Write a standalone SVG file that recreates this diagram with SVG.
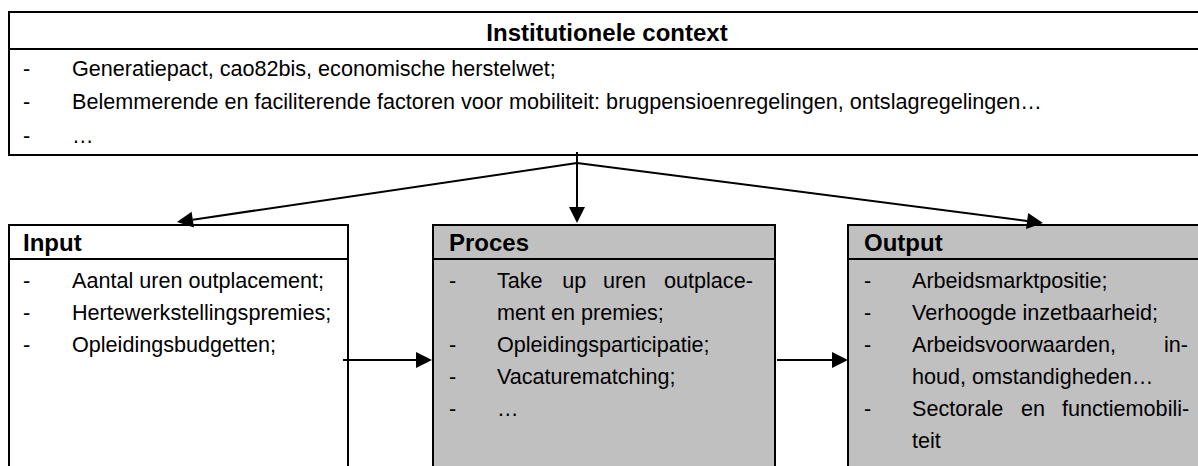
<svg xmlns="http://www.w3.org/2000/svg" width="1198" height="466" viewBox="0 0 1198 466">
  <defs>
    <marker id="ah" markerUnits="userSpaceOnUse" markerWidth="16" markerHeight="16" refX="0" refY="8" orient="auto" overflow="visible">
      <path d="M0,0 L16,8 L0,16 z" fill="#000"/>
    </marker>
    <style>
      .box { stroke: #000; stroke-width: 2; }
      .white { fill: #fff; }
      .grey { fill: #c0c0c0; }
      .sep { stroke: #000; stroke-width: 2; }
      .t { font-family: "Liberation Sans", Arial, sans-serif; font-size: 21.6px; fill: #000; }
      .h { font-family: "Liberation Sans", Arial, sans-serif; font-size: 24px; font-weight: bold; fill: #000; }
      .con { stroke: #000; stroke-width: 2; fill: none; marker-end: url(#ah); }
      .plain { stroke: #000; stroke-width: 2; fill: none; }
    </style>
  </defs>
  <rect width="1198" height="466" fill="#fff"/>

  <g id="context">
    <rect class="box white" x="9" y="12" width="1205" height="143"/>
    <line class="sep" x1="9" y1="49" x2="1214" y2="49"/>
    <text class="h" x="607" y="41" text-anchor="middle">Institutionele context</text>
    <text class="t" x="23" y="76">-</text>
    <text class="t" x="72" y="76">Generatiepact, cao82bis, economische herstelwet;</text>
    <text class="t" x="23" y="109">-</text>
    <text class="t" x="72" y="109">Belemmerende en faciliterende factoren voor mobiliteit: brugpensioenregelingen, ontslagregelingen…</text>
    <text class="t" x="23" y="143">-</text>
    <text class="t" x="72" y="143">…</text>
  </g>

  <g id="input">
    <rect class="box white" x="9" y="225" width="339" height="260"/>
    <line class="sep" x1="9" y1="259" x2="348" y2="259"/>
    <text class="h" x="23" y="251">Input</text>
    <text class="t" x="23" y="288">-</text>
    <text class="t" x="72" y="288">Aantal uren outplacement;</text>
    <text class="t" x="23" y="320">-</text>
    <text class="t" x="72" y="320">Hertewerkstellingspremies;</text>
    <text class="t" x="23" y="352">-</text>
    <text class="t" x="72" y="352">Opleidingsbudgetten;</text>
  </g>

  <g id="proces">
    <rect class="box grey" x="433" y="225" width="342" height="260"/>
    <line class="sep" x1="433" y1="259" x2="775" y2="259"/>
    <text class="h" x="449" y="251">Proces</text>
    <text class="t" x="449" y="288">-</text>
    <text class="t" y="288"><tspan x="497">Take</tspan><tspan x="562.2">up</tspan><tspan x="602.9">uren</tspan><tspan x="664">outplace-</tspan></text>
    <text class="t" x="497" y="320">ment en premies;</text>
    <text class="t" x="449" y="352">-</text>
    <text class="t" x="497" y="352">Opleidingsparticipatie;</text>
    <text class="t" x="449" y="384">-</text>
    <text class="t" x="497" y="384">Vacaturematching;</text>
    <text class="t" x="449" y="416">-</text>
    <text class="t" x="497" y="416">…</text>
  </g>

  <g id="output">
    <rect class="box grey" x="848" y="225" width="370" height="260"/>
    <line class="sep" x1="848" y1="259" x2="1218" y2="259"/>
    <text class="h" x="864" y="251">Output</text>
    <text class="t" x="864" y="288">-</text>
    <text class="t" x="912" y="288">Arbeidsmarktpositie;</text>
    <text class="t" x="864" y="320">-</text>
    <text class="t" x="912" y="320">Verhoogde inzetbaarheid;</text>
    <text class="t" x="864" y="352">-</text>
    <text class="t" y="352"><tspan x="912">Arbeidsvoorwaarden,</tspan><tspan x="1164">in-</tspan></text>
    <text class="t" x="912" y="384">houd, omstandigheden…</text>
    <text class="t" x="864" y="416">-</text>
    <text class="t" y="416"><tspan x="912">Sectorale</tspan><tspan x="1021">en</tspan><tspan x="1062">functiemobili-</tspan></text>
    <text class="t" x="912" y="448">teit</text>
  </g>

  <g id="connectors">
    <line class="plain" x1="577" y1="152" x2="577" y2="163"/>
    <line class="con" x1="577" y1="163" x2="577" y2="207"/>
    <line class="con" x1="577" y1="163" x2="192.8" y2="219.7"/>
    <line class="con" x1="577" y1="163" x2="1027.1" y2="221"/>
    <line class="con" x1="343" y1="360" x2="416" y2="360"/>
    <line class="con" x1="777" y1="360" x2="832" y2="360"/>
  </g>
</svg>
